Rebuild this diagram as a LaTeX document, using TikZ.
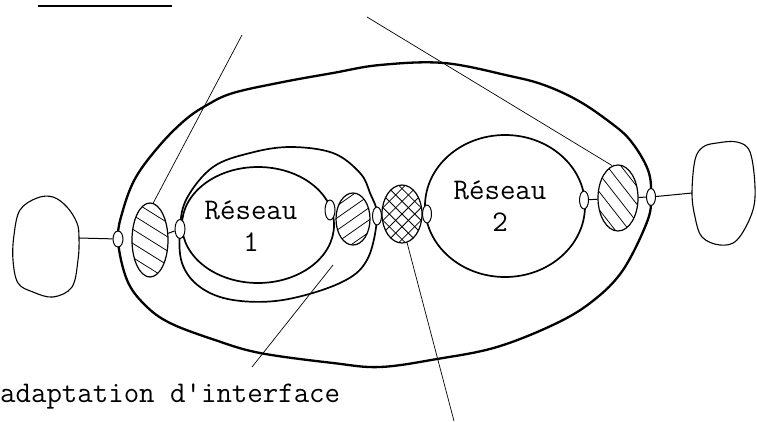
\documentclass[tikz,border=0pt]{standalone}
\usetikzlibrary{shapes.geometric}
\tikzset{
  port/.style={ellipse, draw, fill=white, inner sep=0pt, line width=1pt},
  conn/.style={line width=1pt},
  leader/.style={line width=0.7pt},
  curve/.style={line width=1.7pt},
  thickcurve/.style={line width=2.3pt},
  blob/.style={line width=1.1pt},
  lbl/.style={font=\ttfamily\fontsize{30}{32}\selectfont, align=center, inner sep=0pt},
  hatchbox/.style={ellipse, draw, fill=white, inner sep=0pt, line width=1.2pt},
  hatchline/.style={line width=0.75pt},
}
\begin{document}
\begin{tikzpicture}[x=1pt,y=-1pt]
\useasboundingbox (0,0) rectangle (757,421);
\fill[white] (0,0) rectangle (757,421);

% top underline (of cropped heading)
\draw[line width=2pt] (38,6) -- (172,6);

% outer envelope
\draw[thickcurve] plot[smooth cycle, tension=0.6] coordinates {
 (118,240) (127,280) (145,305) (170,323) (215,340) (260,353) (333,363) (380,367)
 (437,359) (497,347) (557,323) (594,300) (623,270) (647,222) (651,197) (648,170)
 (630,140) (607,120) (577,100) (544,85) (510,76) (444,63) (380,65) (333,73)
 (283,82) (233,93) (207,105) (185,120) (160,145) (136,177) (123,210)};

% envelope around network 1
\draw[curve] plot[smooth cycle, tension=0.6] coordinates {
 (180,228) (187,198) (213,167) (250,153) (290,147) (333,153) (360,173) (370,193)
 (377,217) (367,260) (340,283) (283,300) (233,300) (200,287) (182,263)};

% networks
\node[ellipse, draw, curve, inner sep=0pt, minimum width=152pt, minimum height=116pt] (res1) at (258,225) {};
\node[ellipse, draw, curve, inner sep=0pt, minimum width=160pt, minimum height=142pt] (res2) at (505,206) {};
\node[lbl] (lab1) at (251,226) {Réseau\\1};
\node[lbl] (lab2) at (500,206) {Réseau\\2};

% blobs
\draw[blob] plot[smooth cycle, tension=0.6] coordinates {
 (79,238) (78,260) (72,287) (53,297) (33,292) (18,283) (13,260) (14,235)
 (20,210) (37,198) (53,197) (67,207) (77,223)};
\coordinate (blobL) at (79,238);
\draw[blob] plot[smooth cycle, tension=0.6] coordinates {
 (692,193) (695,217) (702,237) (720,245) (737,240) (752,213) (755,187)
 (750,152) (737,142) (717,143) (703,147) (695,160)};
\coordinate (blobR) at (692,193);

% interface elements
\node[hatchbox, minimum width=36pt, minimum height=74pt] (h1) at (150,240) {};
\node[hatchbox, minimum width=34pt, minimum height=52pt] (h2) at (353,219) {};
\node[hatchbox, minimum width=40pt, minimum height=58pt] (x1) at (402,214) {};
\node[hatchbox, minimum width=40pt, minimum height=66pt] (h3) at (618,198) {};

% hatching inside interface elements
\foreach \nm/\rx/\ry/\ang/\sp in {h1/18/37/-32/12, h2/17/26/35/10, h3/20/33/-52/11, x1/20/29/45/9, x1/20/29/-45/9}{
  \begin{scope}
    \clip (\nm.center) ellipse [x radius=\rx pt, y radius=\ry pt];
    \foreach \k in {-7,...,7}
      \draw[hatchline, shift={(\nm.center)}, rotate=\ang] (-70pt,\k*\sp pt) -- (70pt,\k*\sp pt);
  \end{scope}
}

% ports
\node[port, minimum width=10pt, minimum height=16pt] (n1) at (118,239) {};
\node[port, minimum width=10pt, minimum height=19pt] (n2) at (180,229) {};
\node[port, minimum width=10pt, minimum height=20pt] (n3) at (330,210) {};
\node[port, minimum width=9pt, minimum height=18pt] (n4) at (377,216) {};
\node[port, minimum width=9pt, minimum height=18pt] (n5) at (427,214) {};
\node[port, minimum width=9pt, minimum height=18pt] (n6) at (584,200) {};
\node[port, minimum width=9pt, minimum height=17pt] (n7) at (651,197) {};

% connectors
\draw[conn] (blobL) -- (n1);
\draw[conn] (h1) -- (n2);
\draw[conn] (n6) -- (h3);
\draw[conn] (h3) -- (n7);
\draw[conn] (n7) -- (blobR);

% leaders
\coordinate (top1) at (242,35);
\coordinate (top2) at (367,17);
\coordinate (tipA) at (333,265);
\coordinate (endA) at (252,367);
\coordinate (bot3) at (454,421);
\draw[leader] (top1) -- (h1.85);
\draw[leader] (top2) -- (h3.100);
\draw[leader] (tipA) -- (endA);
\draw[leader] (x1.280) -- (bot3);

\node[lbl, anchor=base west] (adapt) at (0,402) {adaptation d\textquotesingle interface};
\end{tikzpicture}
\end{document}
